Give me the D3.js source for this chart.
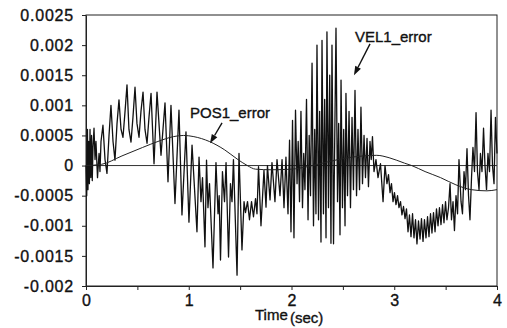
<!DOCTYPE html>
<html>
<head>
<meta charset="utf-8">
<script src="https://cdn.jsdelivr.net/npm/d3@7"></script>
<style>
  html, body { margin: 0; padding: 0; background: #fff; }
  svg { display: block; font-family: "Liberation Sans", Arial, sans-serif; }
  .lbl { fill: #111; stroke: #111; stroke-width: 0.35px; }
</style>
</head>
<body>
<div id="chart"></div>
<script>
// Servo error traces: POS1_error (smooth) and VEL1_error (oscillating)

var xTicks = [0, 0.5, 1, 1.5, 2, 2.5, 3, 3.5, 4];
var xTickLabels = ["0", "", "1", "", "2", "", "3", "", "4"];
var yTicks = [0.0025, 0.002, 0.0015, 0.001, 0.0005, 0, -0.0005, -0.001, -0.0015, -0.002];
var yTickLabels = ["0.0025", "0.002", "0.0015", "0.001", "0.0005", "0", "-0.0005", "-0.001", "-0.0015", "-0.002"];

// POS1_error
var posTime  = [0, 0.15, 0.35, 0.55, 0.7, 0.85, 0.95, 1.05, 1.2, 1.35, 1.47, 1.57, 1.65, 1.8, 2.0, 2.15, 2.35, 2.55, 2.7, 2.83, 2.95, 3.1, 3.17, 3.3, 3.45, 3.6, 3.75, 3.9, 4.0];
var posValue = [0, 0.00002, 0.00016, 0.0003, 0.0004, 0.00048, 0.0005, 0.00048, 0.0004, 0.00026, 0.00011, 0, -0.00006, -0.00007, -0.00006, -0.00002, 0.00006, 0.00013, 0.00016, 0.00017, 0.00013, 0.00004, 0, -0.0001, -0.0002, -0.00032, -0.0004, -0.00042, -0.0004];

// VEL1_error, read as successive peaks / troughs
var velTime = [
  0.000, 0.007, 0.014, 0.019, 0.026, 0.033, 0.039, 0.047, 0.054, 0.061, 0.068, 0.078, 0.088, 0.097, 0.112, 0.127, 0.136, 0.146,
  0.165, 0.185, 0.204, 0.224, 0.243, 0.263, 0.282, 0.302, 0.321, 0.341, 0.360, 0.380, 0.399, 0.418, 0.438, 0.457, 0.477, 0.496,
  0.516, 0.535, 0.555, 0.574, 0.594, 0.613, 0.633,
  0.662, 0.691, 0.730, 0.769, 0.798, 0.827, 0.866, 0.905, 0.934, 0.973, 1.002, 1.032, 1.080, 1.100, 1.119, 1.134, 1.158, 1.173,
  1.187, 1.202, 1.236, 1.265, 1.285, 1.296, 1.309, 1.328, 1.348, 1.363, 1.387, 1.406, 1.421, 1.435, 1.470, 1.489, 1.518, 1.538,
  1.552, 1.572, 1.591, 1.611, 1.630, 1.650, 1.664, 1.679, 1.703, 1.732, 1.752, 1.766, 1.791, 1.810, 1.839, 1.859, 1.888, 1.908,
  1.927, 1.946, 1.966, 1.981, 1.995, 2.010, 2.024, 2.039, 2.054, 2.065, 2.078, 2.092, 2.107, 2.119, 2.131, 2.146, 2.161, 2.172,
  2.185, 2.200, 2.214, 2.226, 2.238, 2.248, 2.263, 2.274, 2.287, 2.297, 2.311, 2.323, 2.336, 2.345, 2.360, 2.372, 2.384, 2.394,
  2.409, 2.433, 2.448, 2.459, 2.472, 2.482, 2.496, 2.508, 2.521, 2.530, 2.545, 2.560, 2.574, 2.589, 2.603, 2.618, 2.633, 2.647,
  2.662, 2.676, 2.691, 2.706, 2.720, 2.735, 2.749, 2.764, 2.776, 2.788, 2.803, 2.822, 2.842, 2.866, 2.891, 2.910, 2.929, 2.944,
  2.959, 2.973, 2.988, 3.002, 3.017, 3.032, 3.046, 3.061, 3.075, 3.090, 3.105, 3.119, 3.134, 3.148, 3.163, 3.178, 3.192, 3.207,
  3.221, 3.236, 3.251, 3.265, 3.280, 3.294, 3.309, 3.324, 3.338, 3.353, 3.367, 3.382, 3.397, 3.411, 3.426, 3.440, 3.455, 3.470,
  3.484, 3.499, 3.513, 3.528, 3.543, 3.557, 3.572, 3.586, 3.601, 3.616, 3.630, 3.650, 3.664, 3.679, 3.693, 3.708, 3.723, 3.737,
  3.752, 3.766, 3.781, 3.796, 3.810, 3.825, 3.839, 3.854, 3.869, 3.883, 3.898, 3.912, 3.927, 3.942, 3.956, 3.971, 3.985, 4.000
];
var velValue = [
  0, -0.0005, 0.0006, -0.0004, 0.0004, -0.0003, 0.0006, -0.0002, 0.0005, -0.00025, 0.0003, 0.00062, 0.0001, 0.0004, -0.0002, 0.0002, -0.0001, 0.0004,
  0.00067, 0.0001, -0.00013, 0.0005, 0.001, 0.0004, 0.00009, 0.0007, 0.00109, 0.0006, 0.00047, 0.0009, 0.00134, 0.0006, 0.00039, 0.0008, 0.0013, 0.0007,
  0.00047, 0.0009, 0.00122, 0.0006, 0.00037, 0.0008, 0.0012,
  0.00003, 0.00122, 0.00017, 0.00104, -0.00027, 0.001, -0.00063, 0.00092, -0.00082, 0.00056, -0.00094, 0.00034, -0.0011, 0.00014, -0.0006, -0.0002, -0.00135, 0.00009,
  -0.0007, -0.0003, -0.0017, 0.00005, -0.0008, -0.0005, -0.00157, -0.0001, -0.0006, 0.00005, -0.00152, -0.0003, -0.0006, 0.0001, -0.00182, 0.0002, -0.0014, -0.0006,
  -0.00078, -0.0006, -0.0009, -0.0006, -0.00085, -0.00055, -0.0008, -0.00002, -0.001, -0.00008, -0.00069, 0, -0.00057, 0.00005, -0.0006, 0.0001, -0.0005, 0.0001,
  -0.0007, 0.00014, -0.0008, 0.00042, -0.0011, 0.00075, -0.0012, 0.00092, -0.0003, 0.0004, -0.0006, 0.0009, -0.0007, 0.0002, -0.0004, 0.0011, -0.0009, 0.0005,
  -0.0005, 0.0017, -0.001, 0.0006, -0.0008, 0.002, -0.0009, 0.0009, -0.00127, 0.00208, -0.0008, 0.0011, -0.0012, 0.00222, -0.0007, 0.0015, -0.00129, 0.002,
  -0.0013, 0.00228, -0.0006, 0.0007, -0.00115, 0.00142, -0.0007, 0.0006, -0.001, 0.0012, -0.0005, 0.0009, -0.0007, 0.0008, -0.0004, 0.00125, -0.0005, 0.0006,
  -0.0004, 0.00097, -0.0003, 0.0005, -0.0002, 0.00045, -0.00035, 0.0004, 0.0001, 0.00048, -0.0001, 0.0001, -0.0002, 0.00003, -0.0006, 0, -0.0003, -0.00015,
  -0.00045, -0.0003, -0.0006, -0.00045, -0.00065, -0.0005, -0.0007, -0.0006, -0.00082, -0.00068, -0.00088, -0.00072, -0.0011, -0.00082, -0.00118, -0.0008, -0.0012, -0.0009,
  -0.0013, -0.00092, -0.00122, -0.00088, -0.00126, -0.0009, -0.0012, -0.00085, -0.00118, -0.0008, -0.00112, -0.00078, -0.0011, -0.00072, -0.001, -0.0007, -0.00098, -0.00065,
  -0.00095, -0.0006, -0.0009, -0.0007, -0.0003, -0.0009, -0.0006, -0.00108, -0.0005, -0.0008, 0.0001, -0.0006, -0.0008, -0.0001, -0.0004, 0.00028, -0.0005, -0.0009,
  -0.0002, 0.0003, -0.0001, 0.00088, -0.0001, -0.0004, 0.0002, -0.0001, 0.00062, 0, -0.0004, 0.0002, -0.0001, 0.00092, 0, -0.0003, 0.0008, 0.0002
];

// Annotation labels and arrows, in data units
var annoLabels = ["POS1_error", "VEL1_error"];
var annoTextAt = [[1.012, 0.00079], [2.618, 0.00205]];
var annoArrowFrom = [[1.324, 0.00071], [2.764, 0.00202]];
var annoArrowTo = [[1.207, 0.00037], [2.608, 0.0015]];

var W = 507, H = 328;
var margin = { top: 15, right: 10, bottom: 42, left: 86 };
var width = 411, height = 271;

var svg = d3.select("#chart").append("svg")
    .attr("width", W)
    .attr("height", H);

var g = svg.append("g")
    .attr("transform", "translate(" + margin.left + "," + margin.top + ")");

var x = d3.scaleLinear().domain([0, 4]).range([0, width]);
var y = d3.scaleLinear().domain([-0.002, 0.0025]).range([height, 0]);

// --- Frame ---
g.append("rect")
    .attr("x", 0).attr("y", 0)
    .attr("width", width).attr("height", height)
    .attr("fill", "none")
    .attr("stroke", "#222")
    .attr("stroke-width", 1);

// --- Axes ---
var yAxis = g.append("g")
    .call(d3.axisLeft(y).tickValues(yTicks).tickSize(4).tickSizeOuter(0)
        .tickFormat(function(d, i) { return yTickLabels[i]; }));
yAxis.selectAll("text")
    .attr("x", -12)
    .attr("class", "lbl")
    .style("font-size", "16px")
    .style("letter-spacing", "0.8px");

var xAxis = g.append("g")
    .attr("transform", "translate(0," + height + ")")
    .call(d3.axisBottom(x).tickValues(xTicks).tickSize(4).tickSizeOuter(0)
        .tickFormat(function(d, i) { return xTickLabels[i]; }));
xAxis.selectAll("text")
    .attr("y", 9)
    .attr("class", "lbl")
    .style("font-size", "16px");

svg.selectAll(".domain, .tick line").attr("stroke", "#222");

// --- Zero reference line ---
g.append("line")
    .attr("x1", 0).attr("x2", width)
    .attr("y1", y(0)).attr("y2", y(0))
    .attr("stroke", "#333")
    .attr("stroke-width", 1);

// --- Series ---
var posData = posTime.map(function(t, i) { return { t: t, v: posValue[i] }; });
var velData = velTime.map(function(t, i) { return { t: t, v: velValue[i] }; });

g.append("path")
    .datum(velData)
    .attr("fill", "none")
    .attr("stroke", "#111")
    .attr("stroke-width", 1.3)
    .attr("stroke-linejoin", "round")
    .attr("d", d3.line().x(function(d) { return x(d.t); }).y(function(d) { return y(d.v); }));

g.append("path")
    .datum(posData)
    .attr("fill", "none")
    .attr("stroke", "#222")
    .attr("stroke-width", 1)
    .attr("d", d3.line().curve(d3.curveMonotoneX)
        .x(function(d) { return x(d.t); }).y(function(d) { return y(d.v); }));

// --- Annotations ---
annoLabels.forEach(function(label, i) {
    g.append("text")
        .attr("x", x(annoTextAt[i][0]))
        .attr("y", y(annoTextAt[i][1]))
        .attr("class", "lbl")
        .style("font-size", "15px")
        .text(label);

    var x1 = x(annoArrowFrom[i][0]), y1 = y(annoArrowFrom[i][1]);
    var x2 = x(annoArrowTo[i][0]), y2 = y(annoArrowTo[i][1]);
    var ang = Math.atan2(y2 - y1, x2 - x1);
    var len = 9, half = 3.2;
    var bx = x2 - len * Math.cos(ang), by = y2 - len * Math.sin(ang);

    g.append("line")
        .attr("x1", x1).attr("y1", y1)
        .attr("x2", bx).attr("y2", by)
        .attr("stroke", "#111")
        .attr("stroke-width", 1.4);

    g.append("path")
        .attr("d", "M" + x2 + "," + y2 +
            "L" + (bx + half * Math.sin(ang)) + "," + (by - half * Math.cos(ang)) +
            "L" + (bx - half * Math.sin(ang)) + "," + (by + half * Math.cos(ang)) + "Z")
        .attr("fill", "#111");
});

// --- X axis title ---
svg.append("text")
    .attr("x", 255)
    .attr("y", 320)
    .attr("class", "lbl")
    .style("font-size", "15px")
    .text("Time");
svg.append("text")
    .attr("x", 290)
    .attr("y", 323)
    .attr("class", "lbl")
    .style("font-size", "15px")
    .text("(sec)");
</script>
</body>
</html>
